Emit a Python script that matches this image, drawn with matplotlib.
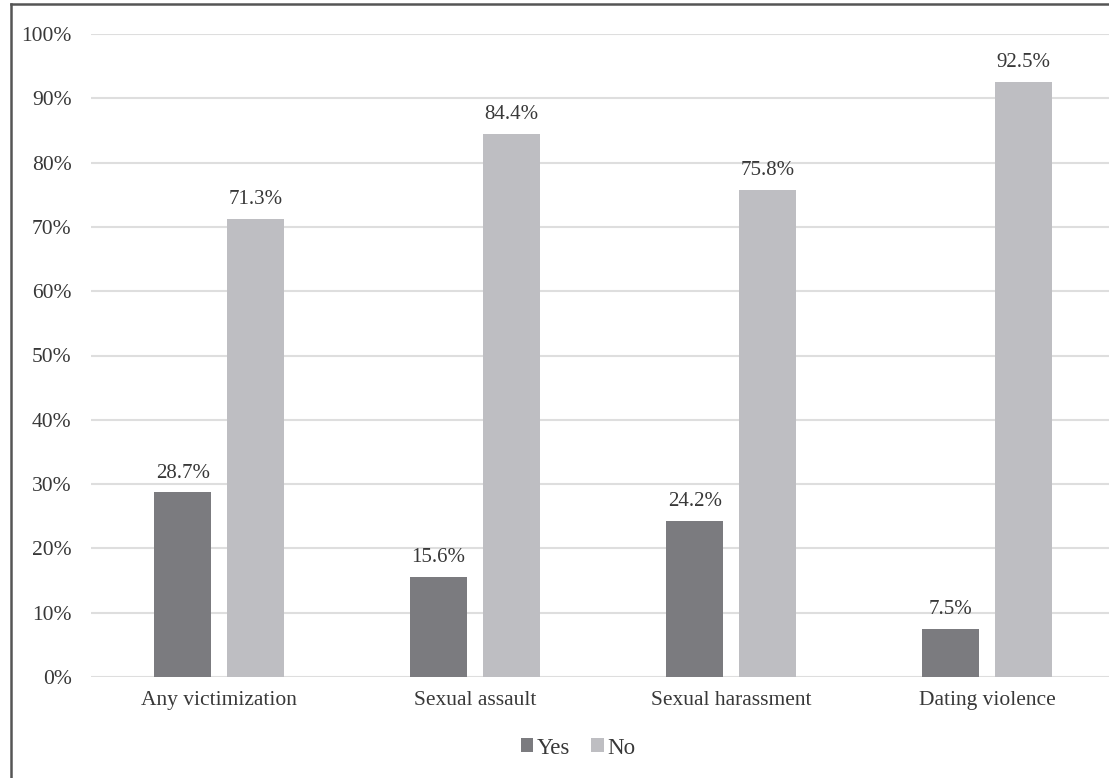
import matplotlib.pyplot as plt
import numpy as np
from matplotlib.lines import Line2D

plt.rcParams['font.family'] = ['Liberation Serif', 'DejaVu Serif']

# data
categories = ['Any victimization', 'Sexual assault', 'Sexual harassment', 'Dating violence']
yes_vals = [28.7, 15.6, 24.2, 7.5]
no_vals = [71.3, 84.4, 75.8, 92.5]
yticks = np.arange(0, 101, 10)

W, H = 1109, 778
fig = plt.figure(figsize=(W / 100, H / 100), dpi=100)
# the plot area runs a little past the right edge of the image (cropped original)
ax = fig.add_axes([91 / W, 1 - 677 / H, (1115 - 91) / W, (677 - 34) / H])

x = np.arange(len(categories))
bw = 0.22
off = 0.142
b1 = ax.bar(x - off, yes_vals, bw, color='#7b7b7f', label='Yes', zorder=3)
b2 = ax.bar(x + off, no_vals, bw, color='#bebec2', label='No', zorder=3)

txt = '#383838'
for bars, vals in [(b1, yes_vals), (b2, no_vals)]:
    for r, v in zip(bars, vals):
        ax.annotate(f'{v}%', (r.get_x() + r.get_width() / 2, v), xytext=(0, 14),
                    textcoords='offset points', ha='center', va='center',
                    fontsize=15, color=txt)

ax.set_xlim(-0.5, 3.5)
ax.set_ylim(0, 100)
ax.set_yticks(yticks)
ax.set_yticklabels([f'{t}%' for t in yticks])
ax.set_xticks(x)
ax.set_xticklabels(categories)
ax.tick_params(axis='both', length=0, labelsize=15.5, labelcolor=txt)
ax.tick_params(axis='y', pad=14)
ax.tick_params(axis='x', pad=10)
ax.grid(axis='y', color='#dedede', linewidth=1.5, zorder=0)
for s in ax.spines.values():
    s.set_visible(False)

fig.legend(handles=[b1, b2], loc='center', bbox_to_anchor=(578 / W, 1 - 748 / H),
           ncol=2, frameon=False, fontsize=16.5, handlelength=0.55, handleheight=0.55,
           handletextpad=0.15, columnspacing=0.9, labelcolor=txt)

# outer frame: only the top and left edges show in the cropped original
fig.add_artist(Line2D([11 / W, 1], [1 - 4 / H, 1 - 4 / H], color='#555555', linewidth=1.8))
fig.add_artist(Line2D([11 / W, 11 / W], [0, 1 - 4 / H], color='#555555', linewidth=1.8))

fig.savefig('out.png', dpi=100)
